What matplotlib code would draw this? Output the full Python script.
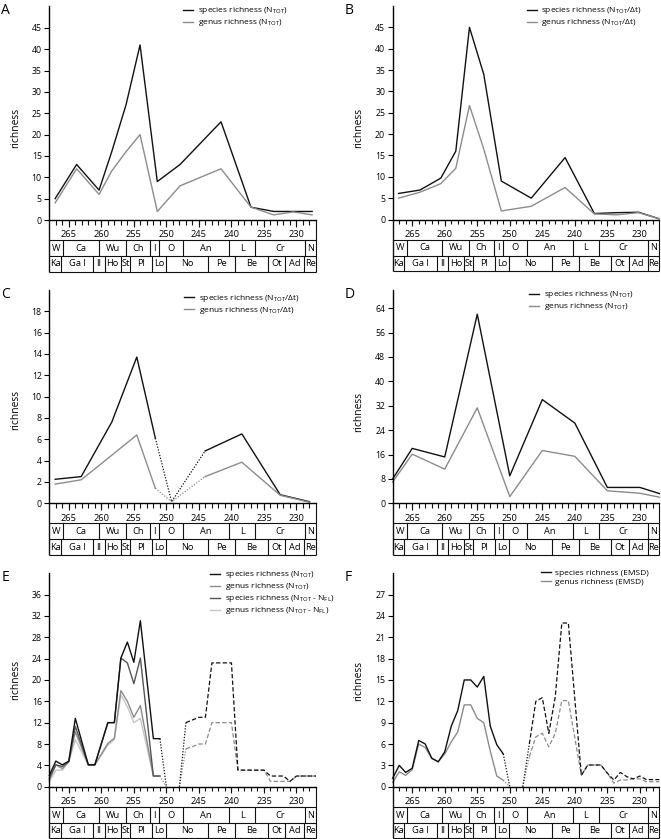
import numpy as np
import matplotlib.pyplot as plt

plt.rcParams['font.family'] = ['Open Sans', 'DejaVu Sans']
plt.rcParams['mathtext.default'] = 'regular'

W, H = 661, 839
BLACK = '#111111'
GRAY = '#8c8c8c'
DARK = '#555555'
LIGHT = '#c6c6c6'

# ---- time scale (Ma) ----
x_major = [265, 260, 255, 250, 245, 240, 235, 230]
x_minor = list(range(228, 268))
row1_edges = [268, 265.85, 260.35, 256.2, 252.5, 251.1, 247.4, 240.35, 236.35, 228.7, 227]
row1_labels = ['W', 'Ca', 'Wu', 'Ch', 'I', 'O', 'An', 'L', 'Cr', 'N']
row2_edges = [268, 266.2, 261.25, 259.5, 257.0, 255.6, 252.25, 250.05, 243.55, 239.4,
              234.4, 231.75, 228.8, 227]
row2_labels = ['Ka', 'Ga I', 'Il', 'Ho', 'St', 'Pl', 'Lo', 'No', 'Pe', 'Be', 'Ot', 'Ad', 'Re']

# ---- panel A ----
a_age = [267.1, 263.8, 260.35, 258.4, 256.2, 254.05, 251.4, 247.9, 241.6, 237.0, 233.5, 230.5, 227.6]
a_species = [5, 13, 7, 16, 27, 41, 9, 13, 23, 3, 2, 2, 2]
a_genus = [4, 12, 6, 11.5, 16, 20, 2, 8, 12, 3, 1.2, 1.9, 1.2]

# ---- panel B ----
b_age = [267.1, 263.8, 260.6, 258.3, 256.2, 254.0, 251.3, 246.7, 241.5, 237.0, 233.6, 230.2, 227.1]
b_species = [6.1, 6.9, 9.7, 16.0, 45.0, 34.0, 9.0, 5.0, 14.5, 1.4, 1.6, 1.7, 0.2]
b_genus = [5.0, 6.4, 8.4, 12.0, 26.7, 16.5, 2.0, 3.1, 7.5, 1.3, 1.1, 1.6, 0.2]

# ---- panel C ----
c_age = [267.1, 263.1, 258.4, 254.55, 251.7, 249.2, 244.05, 238.4, 232.5, 228.0]
c_species = [2.25, 2.5, 7.6, 13.7, 6.1, 0.15, 4.9, 6.5, 0.8, 0.15]
c_genus = [1.8, 2.2, 4.5, 6.4, 1.4, 0.15, 2.5, 3.85, 0.75, 0.1]

# ---- panel D ----
d_age = [268, 265, 260, 255, 250, 245, 240, 235, 230, 227]
d_species = [8, 18, 15.2, 62, 9, 34, 26.3, 5.2, 5.2, 3.2]
d_genus = [7, 16.1, 11.2, 31.3, 2.2, 17.3, 15.4, 4.1, 3.3, 2.0]

# ---- panel E ----
e_age = [268, 267, 266, 265, 264, 262, 261, 259, 258, 257, 256, 255, 254, 252, 251,
         250, 248,
         247, 246, 245, 244, 243, 240, 239, 235, 234, 232, 231, 230, 227]
e_species = [2.1, 4.8, 4.1, 4.8, 12.8, 4.1, 4.1, 12.0, 12.0, 24.1, 27.1, 23.3, 31.1, 9.0, 9.0,
             0, 0,
             12.0, 12.5, 13.0, 13.0, 23.2, 23.2, 3.1, 3.1, 2.0, 2.0, 1.0, 2.0, 2.0]
e_genus = [1.25, 4.1, 3.4, 4.7, 10.3, 4.1, 4.1, 8.1, 9.1, 18.0, 16.0, 13.0, 15.2, 2.0, 2.0,
           0, 0,
           7.1, 7.5, 8.0, 8.0, 12.0, 12.0, 3.1, 3.1, 1.0, 1.0, 1.0, 2.0, 2.0]
e_species_fl = [1.6, 4.1, 3.8, 4.7, 11.3, 4.1, 4.1, 12.0, 12.0, 24.1, 23.2, 19.3, 24.1, 2.0, 2.0]
e_genus_fl = [0.9, 3.1, 3.1, 4.7, 8.8, 4.1, 4.1, 7.8, 8.8, 17.2, 15.0, 12.0, 12.8, 2.0, 2.0]

# ---- panel F ----
f_age = [268, 267, 266, 265, 264, 263, 262, 261, 260, 259, 258, 257, 256, 255, 254, 253, 252, 251,
         250, 248,
         247, 246, 245, 244, 243, 242, 241, 239, 238, 236, 235, 234, 233, 232, 231, 230, 229, 227]
f_species = [1.2, 3.0, 2.0, 2.6, 6.5, 6.0, 4.0, 3.5, 4.9, 8.5, 10.7, 15.0, 15.0, 14.0, 15.5, 8.5, 5.9, 4.6,
             0, 0,
             6.0, 12.0, 12.5, 7.5, 12.7, 23.0, 23.0, 1.6, 3.05, 3.05, 1.9, 0.94, 2.0, 1.4, 1.1, 1.5, 1.0, 1.0]
f_genus = [0.6, 2.1, 1.6, 2.4, 6.0, 5.5, 4.0, 3.5, 4.6, 6.3, 7.7, 11.5, 11.5, 9.6, 9.0, 5.0, 1.5, 0.9,
           0, 0,
           4.2, 7.0, 7.5, 5.6, 7.5, 12.1, 12.1, 1.6, 3.05, 3.05, 1.9, 0.5, 0.94, 0.94, 1.1, 1.1, 0.7, 0.7]

TOT = r'N$_{\mathregular{TOT}}$'
FL = r'N$_{\mathregular{FL}}$'

SOLID = '-'
DOT = (0, (1, 1.3))
DASH = (0, (3.5, 1.8))

fig = plt.figure(figsize=(W / 100, H / 100), dpi=100)


def px_axes(left, top, right, bottom):
    return fig.add_axes([left / W, 1 - bottom / H, (right - left) / W, (bottom - top) / H])


def seg(ax, x, y, sl, color, ls, label=None):
    x = np.asarray(x)
    y = np.asarray(y)
    return ax.plot(x[sl], y[sl], color=color, ls=ls, lw=1.0 if ls == SOLID else 0.9,
                   label=label, clip_on=False)[0]


def make_panel(letter, left, zero, ymax, ystep, label_y):
    top = zero - 213.5
    right = left + 266.7
    ax = px_axes(left, top, right, zero)
    ax.set_xlim(268, 227)
    ax.set_ylim(0, ymax)
    ax.set_xticks([])
    ax.set_yticks(np.arange(0, ymax, ystep))
    for s in ['top', 'right']:
        ax.spines[s].set_visible(False)
    for s in ['left', 'bottom']:
        ax.spines[s].set_linewidth(1.0)
    ax.tick_params(axis='y', direction='out', length=3.6, width=0.8, pad=1.8, labelsize=6.3)

    # geological time scale below the axis
    sc = px_axes(left, zero, right, zero + 52)
    sc.set_xlim(268, 227)
    sc.set_ylim(52, 0)
    sc.axis('off')
    sc.vlines(x_minor, 0, 4.5, color=BLACK, lw=0.8)
    sc.vlines(x_major, 0, 6.5, color=BLACK, lw=0.8)
    for t in x_major:
        sc.text(t, 14.8, str(t), ha='center', va='center', fontsize=6.7)
    sc.hlines([20, 36, 51.6], 268, 227, color=BLACK, lw=0.8, clip_on=False)
    sc.vlines([268], 0, 51.6, color=BLACK, lw=1.0, clip_on=False)
    sc.vlines([227], 0, 51.6, color=BLACK, lw=0.8, clip_on=False)
    sc.vlines(row1_edges[1:-1], 20, 36, color=BLACK, lw=0.8)
    sc.vlines(row2_edges[1:-1], 36, 51.6, color=BLACK, lw=0.8)
    for i, lab in enumerate(row1_labels):
        sc.text((row1_edges[i] + row1_edges[i + 1]) / 2, 28.3, lab, ha='center', va='center', fontsize=6.7)
    for i, lab in enumerate(row2_labels):
        sc.text((row2_edges[i] + row2_edges[i + 1]) / 2, 44, lab, ha='center', va='center', fontsize=6.7)

    fig.text((left - 34) / W, 1 - label_y / H, 'richness', rotation=90, ha='center', va='center', fontsize=7.4)
    fig.text((left - 48) / W, 1 - (top - 3) / H, letter, ha='left', va='top', fontsize=10)
    return ax


def legend(ax, leg_xy, handles=None):
    if handles is None:
        handles, _ = ax.get_legend_handles_labels()
    ax.legend(handles=handles, loc='upper left', bbox_to_anchor=(leg_xy[0] / W, 1 - leg_xy[1] / H),
              bbox_transform=fig.transFigure, frameon=False, fontsize=6,
              handlelength=1.25, handletextpad=0.5, labelspacing=0.12,
              borderpad=0, borderaxespad=0)


# A
ax = make_panel('A', 49.3, 220, 50, 5, 128)
ax.plot(a_age, a_species, color=BLACK, lw=1.0, label='species richness (' + TOT + ')', clip_on=False)
ax.plot(a_age, a_genus, color=GRAY, lw=1.0, label='genus richness (' + TOT + ')', clip_on=False)
legend(ax, (183, 5.5))

# B
ax = make_panel('B', 392.7, 219.5, 50, 5, 127.5)
ax.plot(b_age, b_species, color=BLACK, lw=1.0, label='species richness (' + TOT + '/Δt)', clip_on=False)
ax.plot(b_age, b_genus, color=GRAY, lw=1.0, label='genus richness (' + TOT + '/Δt)', clip_on=False)
legend(ax, (526.7, 5.5))

# C
ax = make_panel('C', 49.3, 503.3, 20, 2, 410)
hc = []
for color, y, lab in [(BLACK, c_species, 'species'), (GRAY, c_genus, 'genus')]:
    hc.append(seg(ax, c_age, y, slice(0, 5), color, SOLID, label=lab + ' richness (' + TOT + '/Δt)'))
    seg(ax, c_age, y, slice(4, 7), color, DOT)
    seg(ax, c_age, y, slice(6, None), color, SOLID)
legend(ax, (184, 292.5), hc)

# D
ax = make_panel('D', 392.7, 503.3, 70, 8, 411.7)
ax.plot(d_age, d_species, color=BLACK, lw=1.0, label='species richness (' + TOT + ')', clip_on=False)
ax.plot(d_age, d_genus, color=GRAY, lw=1.0, label='genus richness (' + TOT + ')', clip_on=False)
legend(ax, (529, 289.5))

# E
ax = make_panel('E', 49.3, 786.7, 40, 4, 680)
hgf = ax.plot(e_age[:15], e_genus_fl, color=LIGHT, lw=1.0, clip_on=False,
              label='genus richness (' + TOT + ' - ' + FL + ')')[0]
hg = seg(ax, e_age, e_genus, slice(0, 15), GRAY, SOLID, label='genus richness (' + TOT + ')')
hsf = ax.plot(e_age[:15], e_species_fl, color=DARK, lw=1.0, clip_on=False,
              label='species richness (' + TOT + ' - ' + FL + ')')[0]
hs = seg(ax, e_age, e_species, slice(0, 15), BLACK, SOLID, label='species richness (' + TOT + ')')
for color, y in [(GRAY, e_genus), (BLACK, e_species)]:
    seg(ax, e_age, y, slice(14, 16), color, DOT)
    seg(ax, e_age, y, slice(16, 18), color, DOT)
    seg(ax, e_age, y, slice(17, None), color, DASH)
legend(ax, (210, 569.5), [hs, hg, hsf, hgf])

# F
ax = make_panel('F', 392.7, 786.7, 30, 3, 680.7)
hf = []
for color, y, lab in [(GRAY, f_genus, 'genus'), (BLACK, f_species, 'species')]:
    hf.append(seg(ax, f_age, y, slice(0, 18), color, SOLID, label=lab + ' richness (EMSD)'))
    seg(ax, f_age, y, slice(17, 19), color, DOT)
    seg(ax, f_age, y, slice(19, 21), color, DOT)
    seg(ax, f_age, y, slice(20, None), color, DASH)
legend(ax, (540.7, 569.5), hf[::-1])

fig.savefig('out.png', dpi=100)
